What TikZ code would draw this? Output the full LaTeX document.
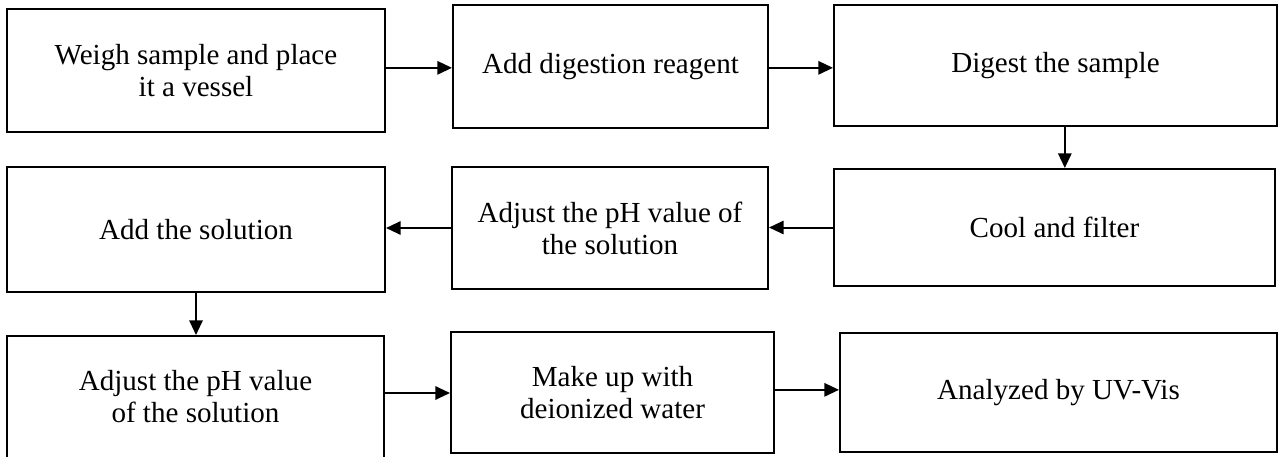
\documentclass[tikz,border=0pt]{standalone}
\usepackage{fontspec}
\setmainfont{Liberation Serif}
\usetikzlibrary{arrows.meta}
\begin{document}
\begin{tikzpicture}[x=0.75pt,y=-0.75pt,
  stepbox/.style={draw=black,line width=1.5pt,inner sep=0pt,align=center,
    font=\fontsize{21.8pt}{24pt}\selectfont},
  flow/.style={line width=1.5pt,-{Triangle[length=11pt,width=10pt]}}]
\useasboundingbox (0,0) rectangle (1279,457);
\clip (0,0) rectangle (1279,457);
\node[stepbox,minimum width=378*0.75pt,minimum height=123*0.75pt] (A) at (196,70.5) {Weigh sample and place\\it a vessel};
\node[stepbox,minimum width=315*0.75pt,minimum height=123*0.75pt] (B) at (610.5,66.5) {Add digestion reagent};
\node[stepbox,minimum width=443*0.75pt,minimum height=121*0.75pt] (C) at (1055.5,65.5) {Digest the sample};
\node[stepbox,minimum width=378*0.75pt,minimum height=125*0.75pt] (D) at (196,229.5) {Add the solution};
\node[stepbox,minimum width=316*0.75pt,minimum height=122*0.75pt] (E) at (610,228) {Adjust the pH value of\\the solution};
\node[stepbox,minimum width=441*0.75pt,minimum height=117*0.75pt] (F) at (1054.5,227.5) {Cool and filter};
\node[stepbox,minimum width=377*0.75pt,minimum height=122*0.75pt] (G) at (195.5,397) {Adjust the pH value\\of the solution};
\node[stepbox,minimum width=323*0.75pt,minimum height=121*0.75pt] (H) at (612.5,392.5) {Make up with\\deionized water};
\node[stepbox,minimum width=437*0.75pt,minimum height=119*0.75pt] (I) at (1058.5,392.5) {Analyzed by UV-Vis};
\draw[flow] ([yshift=2pt]A.east) -- ([yshift=2pt]A.east -| B.west);
\draw[flow] ([yshift=-1pt]B.east) -- ([yshift=-1pt]B.east -| C.west);
\draw[flow] ([xshift=7pt]C.south) -- ([xshift=7pt]C.south |- F.north);
\draw[flow] (F.west) -- (F.west -| E.east);
\draw[flow] (E.west) -- (E.west -| D.east);
\draw[flow] (D.south) -- (D.south |- G.north);
\draw[flow] ([yshift=3pt]G.east) -- ([yshift=3pt]G.east -| H.west);
\draw[flow] ([yshift=2pt]H.east) -- ([yshift=2pt]H.east -| I.west);
\end{tikzpicture}
\end{document}
